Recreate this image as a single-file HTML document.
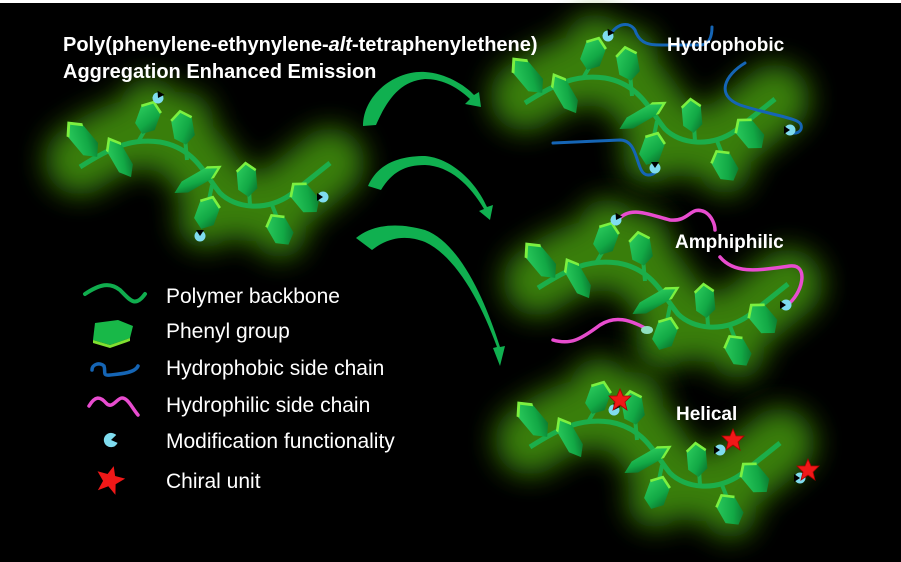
<!DOCTYPE html>
<html><head><meta charset="utf-8"><style>
html,body{margin:0;padding:0;background:#000;}
svg{display:block;}
text{font-family:"Liberation Sans",sans-serif;fill:#fff;}
</style></head><body>
<svg width="901" height="562" viewBox="0 0 901 562" xmlns="http://www.w3.org/2000/svg">
<defs>
<filter id="blur" x="-40%" y="-40%" width="180%" height="180%"><feGaussianBlur stdDeviation="14"/></filter>
<linearGradient id="hx" x1="0" y1="0" x2="1" y2="1"><stop offset="0" stop-color="#2fd060"/><stop offset="0.6" stop-color="#12a845"/><stop offset="1" stop-color="#0a6a28"/></linearGradient>
<g id="hex"><polygon points="0,-13 8,-7 8,7 0,13 -8,7 -8,-7" fill="url(#hx)"/><polyline points="-8,-7 0,-13 8,-7" fill="none" stroke="#7cf040" stroke-width="2"/></g>
<g id="pac"><circle r="5.5" fill="#7fdcef"/><path d="M0,0 L6,-4 L6,4Z" fill="#000"/></g>
<g id="poly">
 <g filter="url(#blur)" opacity="0.9">
  <path d="M80,160 C110,140 130,130 160,135 C195,145 205,175 220,193 C235,208 265,212 290,195 L330,163" stroke="#3f8c0c" stroke-width="70" fill="none" stroke-linecap="round"/>
  <circle cx="150" cy="108" r="30" fill="#3f8c0c"/><circle cx="185" cy="120" r="28" fill="#3f8c0c"/>
  <circle cx="205" cy="220" r="28" fill="#3f8c0c"/><circle cx="280" cy="232" r="26" fill="#3f8c0c"/>
 </g>
 <path d="M80,167 C110,148 130,138 160,142 C195,148 205,175 220,193 C235,208 265,212 290,195 L330,163" stroke="#1cae4a" stroke-width="5" fill="none"/>
 <g stroke="#1cae4a" stroke-width="4"><line x1="138" y1="142" x2="148" y2="125"/><line x1="187" y1="160" x2="185" y2="138"/><line x1="212" y1="185" x2="208" y2="205"/><line x1="250" y1="205" x2="249" y2="190"/><line x1="272" y1="205" x2="278" y2="220"/></g>
 <use href="#hex" transform="translate(83,140) rotate(-40) scale(1.2,1.7)"/>
 <use href="#hex" transform="translate(120,158) rotate(-30) scale(1.0,1.7)"/>
 <use href="#hex" transform="translate(148,118) rotate(20) scale(1.3)"/>
 <use href="#hex" transform="translate(183,128) rotate(-10) scale(1.3)"/>
 <use href="#hex" transform="translate(197,180) rotate(60) scale(0.8,2)"/>
 <use href="#hex" transform="translate(207,213) rotate(20) scale(1.3)"/>
 <use href="#hex" transform="translate(247,180) rotate(-5) scale(1.2,1.3)"/>
 <use href="#hex" transform="translate(280,230) rotate(-30) scale(1.3)"/>
 <use href="#hex" transform="translate(305,198) rotate(-40) scale(1.3,1.4)"/>
</g>
</defs>
<rect width="901" height="562" fill="#000"/>
<rect width="901" height="3" fill="#fff"/>

<use href="#poly"/>
<use href="#pac" transform="translate(158,98) rotate(-60)"/>
<use href="#pac" transform="translate(323,197) rotate(180)"/>
<use href="#pac" transform="translate(200,236) rotate(-90)"/>

<use href="#poly" transform="translate(445,-64)"/>
<g fill="none" stroke="#1565b5" stroke-width="3" stroke-linecap="round">
<path d="M610,35 C618,22 630,22 635,30 C640,45 650,45 665,45 L700,45 C710,45 712,35 712,27"/>
<path d="M745,63 C725,75 715,95 740,105 C770,115 800,118 801,125 C803,132 795,135 790,132"/>
<path d="M553,143 L620,140 C640,140 635,175 648,175 C655,175 658,170 655,168"/>
</g>
<use href="#pac" transform="translate(608,36) rotate(-60)"/>
<use href="#pac" transform="translate(790,130) rotate(180)"/>
<use href="#pac" transform="translate(655,168) rotate(-90)"/>

<use href="#poly" transform="translate(458,121)"/>
<g fill="none" stroke="#e84ccf" stroke-width="3.5" stroke-linecap="round">
<path d="M618,220 C630,205 650,215 670,220 C690,222 690,205 705,212 C712,216 715,225 715,230"/>
<path d="M720,257 C735,275 760,270 790,266 C810,264 802,295 787,305"/>
<path d="M553,340 C570,345 580,340 600,325 C615,315 630,320 645,328"/>
</g>
<use href="#pac" transform="translate(616,220) rotate(-60)"/>
<use href="#pac" transform="translate(786,305) rotate(180)"/>
<ellipse cx="647" cy="330" rx="6" ry="4" fill="#8fe0c0"/>

<use href="#poly" transform="translate(450,280)"/>
<use href="#pac" transform="translate(614,410) rotate(-60)"/>
<use href="#pac" transform="translate(720,450) rotate(180)"/>
<use href="#pac" transform="translate(800,478) rotate(180)"/>
<g fill="#f01818" stroke="#a00" stroke-width="0.8">
<polygon transform="translate(620,400)" points="0,-11 3,-4 11,-4 5,2 7,10 0,5 -7,10 -5,2 -11,-4 -3,-4"/>
<polygon transform="translate(733,440)" points="0,-11 3,-4 11,-4 5,2 7,10 0,5 -7,10 -5,2 -11,-4 -3,-4"/>
<polygon transform="translate(808,470)" points="0,-11 3,-4 11,-4 5,2 7,10 0,5 -7,10 -5,2 -11,-4 -3,-4"/>
</g>

<text x="63" y="51" font-size="20" font-weight="bold">Poly(phenylene-ethynylene-<tspan font-style="italic">alt</tspan>-tetraphenylethene)</text>
<text x="63" y="78" font-size="20" font-weight="bold">Aggregation  Enhanced Emission</text>
<text x="667" y="51" font-size="19" font-weight="bold">Hydrophobic</text>
<text x="675" y="248" font-size="19" font-weight="bold">Amphiphilic</text>
<text x="676" y="420" font-size="19" font-weight="bold">Helical</text>

<g fill="#10b050">
<path d="M363,126 C363,95 395,70 425,72 C445,73 465,85 474,95 L479,92 L481,107 L465,104 L470,99 C455,85 440,79 425,79 C400,81 387,100 376,125Z"/>
<path d="M368,186 C378,163 400,156 425,156 C450,158 475,180 487,207 L493,205 L490,220 L479,211 L484,209 C470,185 450,166 425,165 C405,165 392,172 381,190Z"/>
<path d="M356,238 C375,223 400,223 425,230 C460,243 485,300 500,347 L505,346 L500,366 L493,348 L497,347 C480,300 455,256 425,242 C405,234 387,238 372,250Z"/>
</g>

<path d="M85,294 C100,284 110,282 120,290 C130,300 135,308 145,294" stroke="#10ad4e" stroke-width="4" fill="none" stroke-linecap="round"/>
<polygon points="95,323 118,320 133,326 130,338 110,345 93,340" fill="#18b848"/>
<polygon points="93,340 110,345 130,338 130,341 110,348 93,343" fill="#80e030"/>
<path d="M92,370 C92,364 100,362 104,366 C106,372 102,376 110,375 C120,374 135,373 138,366" stroke="#1565b5" stroke-width="3.5" fill="none" stroke-linecap="round"/>
<path d="M89,406 C95,396 100,396 106,403 C112,410 117,398 122,398 C128,398 132,408 138,415" stroke="#e84ccf" stroke-width="3.5" fill="none" stroke-linecap="round"/>
<use href="#pac" transform="translate(111,440) rotate(-10) scale(1.3)"/>
<polygon transform="translate(110,480) scale(1.3) rotate(15)" points="0,-11 3,-4 11,-4 5,2 7,10 0,5 -7,10 -5,2 -11,-4 -3,-4" fill="#f01818"/>
<g font-size="21">
<text x="166" y="303">Polymer backbone</text>
<text x="166" y="338">Phenyl group</text>
<text x="166" y="375">Hydrophobic side chain</text>
<text x="166" y="412">Hydrophilic side chain</text>
<text x="166" y="448">Modification functionality</text>
<text x="166" y="488">Chiral unit</text>
</g>
</svg>
</body></html>
